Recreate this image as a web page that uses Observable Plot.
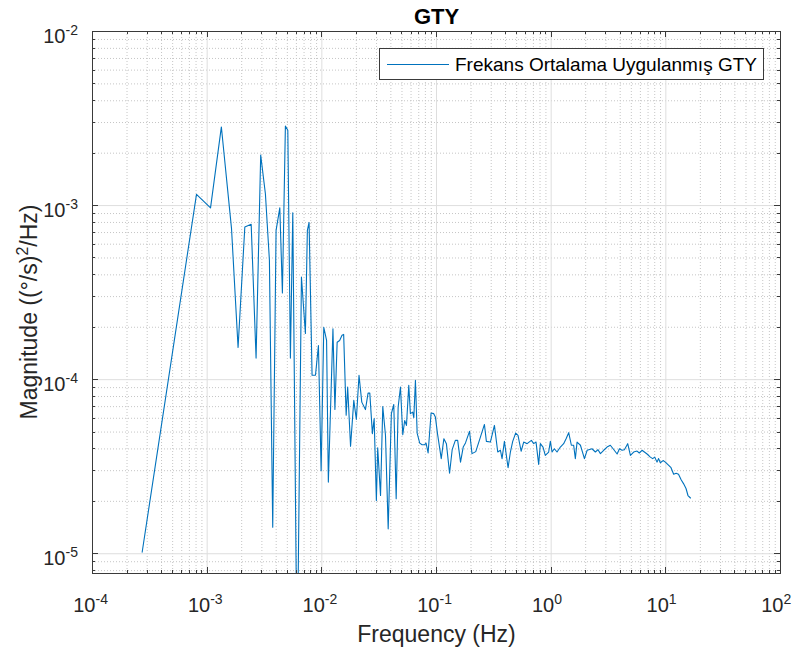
<!DOCTYPE html>
<html>
<head>
<meta charset="utf-8">
<script src="https://cdn.jsdelivr.net/npm/d3@7"></script>
<script src="https://cdn.jsdelivr.net/npm/@observablehq/plot@0.6"></script>
<style>
  html, body { margin: 0; padding: 0; background: #fff; }
  svg { font-family: "Liberation Sans", Arial, Helvetica, sans-serif; }
</style>
</head>
<body>
<div id="chart"></div>
<script>
// ---- data ----
const frequency = [
  2.71e-4, 8.07e-4, 1.07e-3, 1.33e-3, 1.63e-3, 1.86e-3, 2.13e-3, 2.42e-3, 2.67e-3, 2.93e-3,
  3.22e-3, 3.49e-3, 3.73e-3, 3.99e-3, 4.30e-3, 4.53e-3, 4.81e-3, 5.05e-3, 5.32e-3, 5.58e-3,
  6.09e-3, 6.64e-3, 7.19e-3, 7.48e-3, 7.74e-3, 8.22e-3, 8.80e-3, 9.34e-3, 9.86e-3, 1.04e-2,
  1.10e-2, 1.14e-2, 1.25e-2, 1.30e-2, 1.36e-2, 1.43e-2, 1.50e-2, 1.55e-2, 1.63e-2, 1.68e-2,
  1.78e-2, 1.90e-2, 2.00e-2, 2.11e-2, 2.23e-2, 2.40e-2, 2.53e-2, 2.62e-2, 2.76e-2, 2.86e-2,
  2.99e-2, 3.07e-2, 3.25e-2, 3.40e-2, 3.59e-2, 3.79e-2, 4.04e-2, 4.24e-2, 4.45e-2, 4.63e-2,
  4.85e-2, 5.08e-2, 5.28e-2, 5.47e-2, 5.73e-2, 5.92e-2, 6.20e-2, 6.34e-2, 6.55e-2, 6.78e-2,
  7.14e-2, 7.48e-2, 7.89e-2, 8.11e-2, 8.45e-2, 8.97e-2, 9.46e-2, 9.78e-2, 0.102, 0.110,
  0.116, 0.122, 0.130, 0.137, 0.146, 0.153, 0.162, 0.171, 0.179, 0.194,
  0.204, 0.220, 0.2415, 0.2618, 0.2723, 0.295, 0.320, 0.342, 0.361, 0.373,
  0.391, 0.421, 0.441, 0.462, 0.490, 0.514, 0.547, 0.576, 0.617, 0.672,
  0.704, 0.738, 0.778, 0.805, 0.849, 0.889, 0.951, 0.984, 1.018, 1.066,
  1.125, 1.203, 1.285, 1.349, 1.422, 1.50, 1.571, 1.625, 1.682, 1.80,
  1.95, 2.06, 2.27, 2.43, 2.56, 2.69, 2.87, 3.07, 3.28, 3.51,
  3.76, 3.94, 4.15, 4.35, 4.65, 4.91, 5.24, 5.61, 5.87, 6.20,
  6.50, 6.86, 7.33, 7.68, 8.00, 8.38, 8.65, 8.95, 9.46, 9.90,
  10.6, 11.1, 11.7, 12.3, 12.9, 13.6, 14.3, 15.0, 15.6, 16.4
];
const magnitude = [
  1.02e-5, 1.16e-3, 9.7e-4, 2.83e-3, 7.4e-4, 1.53e-4, 7.53e-4, 7.8e-4, 1.33e-4, 1.95e-3,
  1.17e-3, 4.85e-4, 1.42e-5, 7.2e-4, 9.7e-4, 3.15e-4, 2.86e-3, 2.71e-3, 1.33e-4, 9.1e-4,
  2.0e-6, 3.89e-4, 1.84e-4, 7.2e-4, 8.0e-4, 1.06e-4, 1.06e-4, 1.57e-4, 3.0e-5, 2.0e-4,
  1.68e-4, 2.58e-5, 1.96e-4, 6.75e-5, 1.64e-4, 1.68e-4, 1.80e-4, 1.82e-4, 6.24e-5, 9.08e-5,
  4.14e-5, 7.6e-5, 5.9e-5, 1.06e-4, 7.43e-5, 6.73e-5, 8.37e-5, 8.37e-5, 4.9e-5, 5.97e-5,
  2.02e-5, 4.06e-5, 2.16e-5, 7.0e-5, 4.79e-5, 1.39e-5, 6.38e-5, 7.2e-5, 2.07e-5, 6.97e-5,
  9.08e-5, 4.83e-5, 5.83e-5, 5.46e-5, 9.27e-5, 6.38e-5, 6.51e-5, 6.05e-5, 9.9e-5, 4.93e-5,
  4.32e-5, 4.23e-5, 4.23e-5, 4.32e-5, 3.79e-5, 6.43e-5, 6.38e-5, 6.1e-5, 4.9e-5, 3.52e-5,
  4.58e-5, 4.29e-5, 2.9e-5, 3.96e-5, 4.48e-5, 4.48e-5, 3.36e-5, 4.1e-5, 4.33e-5, 5.05e-5,
  3.76e-5, 3.86e-5, 4.68e-5, 5.53e-5, 4.42e-5, 4.38e-5, 5.46e-5, 3.84e-5, 3.93e-5, 3.52e-5,
  4.42e-5, 3.12e-5, 3.84e-5, 4.42e-5, 4.93e-5, 4.79e-5, 3.88e-5, 4.38e-5, 4.29e-5, 4.48e-5,
  4.29e-5, 4.38e-5, 3.26e-5, 4.29e-5, 4.1e-5, 3.67e-5, 3.84e-5, 4.42e-5, 3.84e-5, 4.01e-5,
  3.84e-5, 4.1e-5, 4.29e-5, 4.58e-5, 4.96e-5, 4.2e-5, 4.2e-5, 3.52e-5, 4.38e-5, 4.2e-5,
  3.52e-5, 3.93e-5, 4.01e-5, 3.84e-5, 3.96e-5, 3.76e-5, 3.93e-5, 4.1e-5, 4.2e-5, 3.97e-5,
  3.74e-5, 4.01e-5, 3.93e-5, 3.96e-5, 4.29e-5, 3.67e-5, 3.84e-5, 3.89e-5, 3.79e-5, 3.93e-5,
  3.84e-5, 3.74e-5, 3.59e-5, 3.52e-5, 3.59e-5, 3.36e-5, 3.52e-5, 3.33e-5, 3.43e-5, 3.36e-5,
  3.22e-5, 3.12e-5, 2.86e-5, 2.9e-5, 2.86e-5, 2.66e-5, 2.52e-5, 2.37e-5, 2.16e-5, 2.09e-5
];
const seriesName = "Frekans Ortalama Uygulanmış GTY";
const titleText = "GTY";
const xLabel = "Frequency (Hz)";
const xTicks = [1e-4, 1e-3, 1e-2, 1e-1, 1e0, 1e1, 1e2];
const yTicks = [1e-5, 1e-4, 1e-3, 1e-2];
const xDomain = [1e-4, 1e2];
const yDomain = [7.7e-6, 1e-2];

// ---- derived ----
const data = frequency.map((f, i) => ({f, m: magnitude[i]}));
const minorOf = (majors, dom) => {
  const out = [];
  for (const M of majors) for (let k = 2; k <= 9; k++) {
    const v = k * M;
    if (v > dom[0] && v < dom[1]) out.push(v);
  }
  return out;
};
const xMinor = minorOf(xTicks, xDomain);
const yMinor = minorOf([1e-6, ...yTicks], yDomain);
const exp10 = v => Math.round(Math.log10(v));

const W = 798, H = 650, mL = 92, mR = 18, mT = 31, mB = 77;
const font = "'Liberation Sans', Arial, Helvetica, sans-serif";
const blue = "#0072BD";

const plot = Plot.plot({
  width: W, height: H,
  marginLeft: mL, marginRight: mR, marginTop: mT, marginBottom: mB,
  style: {fontFamily: font, background: "#fff", overflow: "visible"},
  x: {type: "log", domain: xDomain, axis: null},
  y: {type: "log", domain: yDomain, axis: null},
  marks: [
    Plot.ruleX(xMinor, {stroke: "#c6c6c6", strokeWidth: 1, strokeDasharray: "1,2"}),
    Plot.ruleY(yMinor, {stroke: "#c6c6c6", strokeWidth: 1, strokeDasharray: "1,2"}),
    Plot.ruleX(xTicks, {stroke: "#dedede", strokeWidth: 1}),
    Plot.ruleY(yTicks, {stroke: "#dedede", strokeWidth: 1}),
    Plot.line(data, {x: "f", y: "m", stroke: blue, strokeWidth: 1.1, clip: true}),
    Plot.frame({stroke: "#3a3a3a", strokeWidth: 1}),
    // x tick labels: 10 + superscript exponent
    Plot.text(xTicks, {x: d => d, frameAnchor: "bottom", text: () => "10", dx: 3, dy: 38,
      textAnchor: "end", lineAnchor: "bottom", fontSize: 20, fill: "#262626"}),
    Plot.text(xTicks, {x: d => d, frameAnchor: "bottom", text: d => String(exp10(d)), dx: 3, dy: 30,
      textAnchor: "start", lineAnchor: "bottom", fontSize: 14, fill: "#262626"}),
    // y tick labels
    Plot.text(yTicks, {y: d => d, frameAnchor: "left", text: () => "10", dx: -27, dy: 11,
      textAnchor: "end", lineAnchor: "bottom", fontSize: 20, fill: "#262626"}),
    Plot.text(yTicks, {y: d => d, frameAnchor: "left", text: d => String(exp10(d)), dx: -27, dy: 3,
      textAnchor: "start", lineAnchor: "bottom", fontSize: 14, fill: "#262626"}),
    // title
    Plot.text([titleText], {frameAnchor: "top", dy: -8, lineAnchor: "bottom", fontSize: 22,
      fontWeight: "bold", fill: "#000"}),
    // x label
    Plot.text([xLabel], {frameAnchor: "bottom", dy: 68, lineAnchor: "bottom", fontSize: 23, fill: "#262626"})
  ]
});

document.getElementById("chart").appendChild(plot);

// inner tick marks through the plot's own scales
const sx = plot.scale("x"), sy = plot.scale("y");
const svg = d3.select(plot);
const fTop = mT, fBottom = H - mB, fLeft = mL, fRight = W - mR;
const tg = svg.append("g").attr("stroke", "#3a3a3a").attr("stroke-width", 1);
const addX = (vals, len) => vals.forEach(v => {
  const x = Math.round(sx.apply(v)) + 0.5;
  tg.append("line").attr("x1", x).attr("x2", x).attr("y1", fBottom).attr("y2", fBottom - len);
  tg.append("line").attr("x1", x).attr("x2", x).attr("y1", fTop).attr("y2", fTop + len);
});
const addY = (vals, len) => vals.forEach(v => {
  const y = Math.round(sy.apply(v)) + 0.5;
  tg.append("line").attr("y1", y).attr("y2", y).attr("x1", fLeft).attr("x2", fLeft + len);
  tg.append("line").attr("y1", y).attr("y2", y).attr("x1", fRight).attr("x2", fRight - len);
});
addX(xTicks, 6); addX(xMinor, 3);
addY(yTicks, 6); addY(yMinor, 3);

// y axis label (rotated) with superscript
const yl = svg.append("text")
  .attr("transform", `translate(37,${(fTop + fBottom) / 2 + 10}) rotate(-90)`)
  .attr("text-anchor", "middle").attr("font-size", 23).attr("fill", "#262626")
  .attr("font-family", font);
yl.append("tspan").text("Magnitude ((°/s)");
yl.append("tspan").attr("dy", -9).attr("font-size", 16).text("2");
yl.append("tspan").attr("dy", 9).text("/Hz)");

// legend
const lg = svg.append("g");
lg.append("rect").attr("x", 379.5).attr("y", 48.5).attr("width", 384).attr("height", 31)
  .attr("fill", "#fff").attr("stroke", "#3a3a3a").attr("stroke-width", 1);
lg.append("line").attr("x1", 387).attr("x2", 449).attr("y1", 64.5).attr("y2", 64.5)
  .attr("stroke", blue).attr("stroke-width", 1.1);
lg.append("text").attr("x", 455).attr("y", 71).attr("font-size", 19).attr("fill", "#000")
  .attr("text-anchor", "start").attr("font-family", font).text(seriesName);
</script>
</body>
</html>
